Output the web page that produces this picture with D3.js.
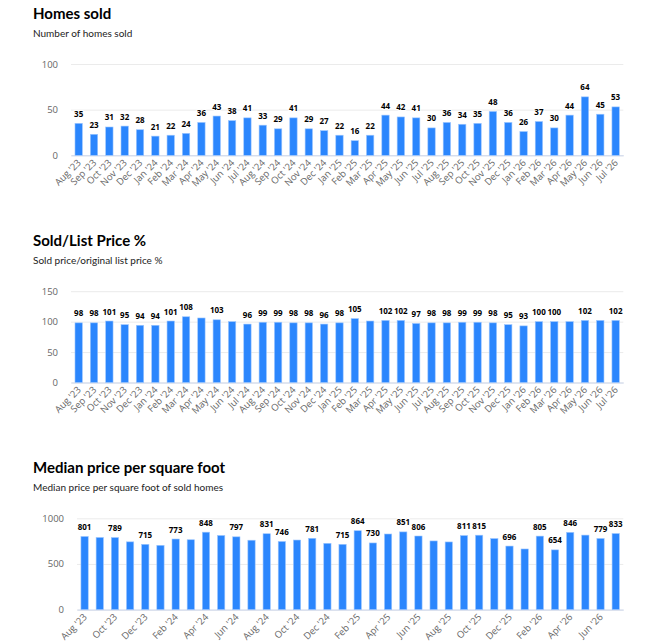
<!DOCTYPE html>
<html lang="en">
  <head>
    <meta charset="UTF-8" />
    <title>Market stats</title>
    <script src="https://d3js.org/d3.v7.min.js"></script>
    <style>
      body {
        margin: 0;
        background: #fff;
      }
      svg {
        display: block;
      }
      .title {
        font-family: Lato, sans-serif;
        font-weight: 700;
        font-size: 15px;
        fill: #000;
      }
      .subtitle {
        font-family: Lato, sans-serif;
        font-size: 10px;
        fill: #222;
      }
      .tick-label {
        font-family: 'Open Sans', sans-serif;
        font-size: 9.5px;
        fill: #666;
      }
      .y-label {
        font-family: 'Open Sans', sans-serif;
        font-size: 9.5px;
        fill: #666;
      }
      .data-label {
        font-family: 'Open Sans', sans-serif;
        font-size: 8px;
        font-weight: 700;
        fill: #000;
        stroke: #fff;
        stroke-width: 2px;
        stroke-linejoin: round;
        paint-order: stroke;
      }
    </style>
  </head>
  <body>
    <svg width="661" height="643"></svg>

    <script>
      const months = [
        "Aug '23", "Sep '23", "Oct '23", "Nov '23", "Dec '23", "Jan '24",
        "Feb '24", "Mar '24", "Apr '24", "May '24", "Jun '24", "Jul '24",
        "Aug '24", "Sep '24", "Oct '24", "Nov '24", "Dec '24", "Jan '25",
        "Feb '25", "Mar '25", "Apr '25", "May '25", "Jun '25", "Jul '25",
        "Aug '25", "Sep '25", "Oct '25", "Nov '25", "Dec '25", "Jan '26",
        "Feb '26", "Mar '26", "Apr '26", "May '26", "Jun '26", "Jul '26",
      ];

      const homesSold = [
        35, 23, 31, 32, 28, 21, 22, 24, 36, 43, 38, 41, 33, 29, 41, 29, 27, 22,
        16, 22, 44, 42, 41, 30, 36, 34, 35, 48, 36, 26, 37, 30, 44, 64, 45, 53,
      ];
      const homesTicks = [0, 50, 100];

      const soldListPct = [
        98, 98, 101, 95, 94, 94, 101, 108, 106, 103, 100, 96, 99, 99, 98, 98, 96, 98,
        105, 101, 102, 102, 97, 98, 98, 99, 99, 98, 95, 93, 100, 100, 100, 102, 102, 102,
      ];
      const pctTicks = [0, 50, 100, 150];
      // labels that the original chart leaves out (overlap)
      const pctHiddenLabels = ["Apr '24", "Jun '24", "Mar '25", "Apr '26", "Jun '26"];

      const pricePerSqft = [
        801, 790, 789, 742, 715, 704, 773, 765, 848, 812, 797, 760, 831, 746, 762, 781, 726, 715,
        864, 730, 828, 851, 806, 752, 741, 811, 815, 778, 696, 664, 805, 654, 846, 816, 779, 833,
      ];
      const sqftTicks = [0, 500, 1000];
      const sqftHiddenLabels = [
        "Sep '23", "Nov '23", "Jan '24", "Mar '24", "May '24", "Jul '24", "Oct '24",
        "Dec '24", "Apr '25", "Jul '25", "Aug '25", "Nov '25", "Jan '26", "May '26",
      ];

      const svg = d3.select('svg');

      function drawChart(opts) {
        const g = svg.append('g').attr('transform', `translate(0,${opts.top})`);
        const plotTop = 64, plotBottom = 155.3, right = 623.3;

        g.append('text').attr('class', 'title').attr('x', 33).attr('y', 19).text(opts.title);
        g.append('text').attr('class', 'subtitle').attr('x', 33).attr('y', 36.5).text(opts.subtitle);

        const x = d3.scaleBand().domain(months).range([opts.left, right]).padding(0);
        const y = d3.scaleLinear()
          .domain([0, d3.max(opts.ticks)])
          .range([plotBottom, plotTop]);

        // gridlines + y labels
        const yAxis = g.append('g')
          .attr('transform', `translate(${opts.left},0)`)
          .call(
            d3.axisLeft(y)
              .tickValues(opts.ticks)
              .tickFormat(d3.format('d'))
              .tickSize(-(right - opts.left))
              .tickPadding(13),
          );
        yAxis.select('.domain').remove();
        yAxis.selectAll('.tick line').attr('stroke', '#ebebeb').attr('stroke-width', 1);
        yAxis.selectAll('.tick text').attr('class', 'y-label').attr('dy', '0.32em');

        // x axis line
        const xAxis = g.append('g')
          .attr('transform', `translate(0,${plotBottom})`)
          .call(d3.axisBottom(x).tickSize(0).tickFormat(''));
        xAxis.select('.domain').attr('stroke', '#ccd6eb');

        // rotated category labels
        g.append('g')
          .selectAll('text')
          .data(months.filter((d, i) => i % opts.tickStep === 0))
          .join('text')
          .attr('class', 'tick-label')
          .attr('text-anchor', 'end')
          .attr('transform', (d) => `translate(${x(d) + x.bandwidth() / 2 + 3},${plotBottom + 8}) rotate(-45)`)
          .text((d) => d);

        const barW = x.bandwidth() * 0.48;
        const data = opts.values.map((v, i) => ({ month: months[i], value: v }));

        g.append('g')
          .selectAll('rect')
          .data(data)
          .join('rect')
          .attr('x', (d) => x(d.month) + x.bandwidth() / 2 - barW / 2)
          .attr('y', (d) => y(d.value))
          .attr('width', barW)
          .attr('height', (d) => plotBottom - y(d.value))
          .attr('fill', '#2b86fd')
          .attr('stroke', '#9cc6ff')
          .attr('stroke-width', 0.6);

        g.append('g')
          .selectAll('text')
          .data(data.filter((d) => !opts.hidden.includes(d.month)))
          .join('text')
          .attr('class', 'data-label')
          .attr('text-anchor', 'middle')
          .attr('x', (d) => x(d.month) + x.bandwidth() / 2)
          .attr('y', (d) => y(d.value) - 6.5)
          .text((d) => d.value);
      }

      drawChart({
        top: 0,
        title: 'Homes sold',
        subtitle: 'Number of homes sold',
        values: homesSold,
        ticks: homesTicks,
        left: 71,
        tickStep: 1,
        hidden: [],
      });

      drawChart({
        top: 227.2,
        title: 'Sold/List Price %',
        subtitle: 'Sold price/original list price %',
        values: soldListPct,
        ticks: pctTicks,
        left: 71,
        tickStep: 1,
        hidden: pctHiddenLabels,
      });

      drawChart({
        top: 454.3,
        title: 'Median price per square foot',
        subtitle: 'Median price per square foot of sold homes',
        values: pricePerSqft,
        ticks: sqftTicks,
        left: 77,
        tickStep: 2,
        hidden: sqftHiddenLabels,
      });
    </script>
  </body>
</html>
